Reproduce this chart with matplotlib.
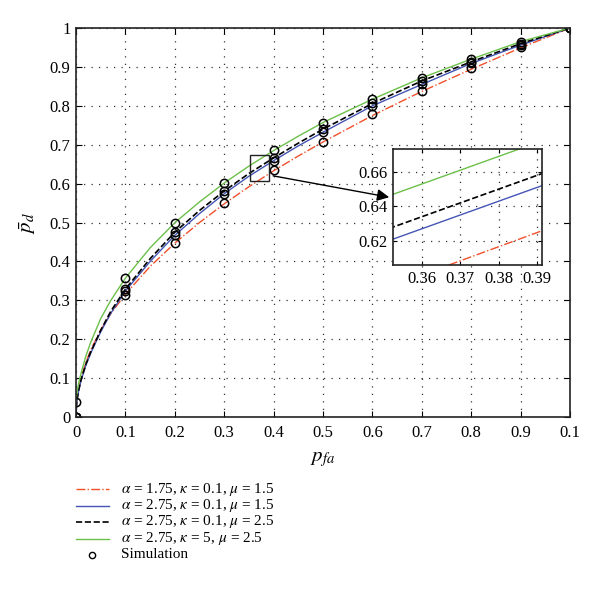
import matplotlib
matplotlib.use('Agg')
import matplotlib.pyplot as plt
from matplotlib.patches import Rectangle
from matplotlib.lines import Line2D

plt.rcParams['font.family'] = ['Liberation Serif', 'DejaVu Serif']
plt.rcParams['mathtext.fontset'] = 'stix'

# curve values
pfa = [0, 0.001, 0.002, 0.005, 0.01, 0.02, 0.03, 0.05, 0.07, 0.1, 0.15, 0.2, 0.25, 0.3,
       0.35, 0.4, 0.45, 0.5, 0.6, 0.7, 0.8, 0.9, 1.0]
pd_red = [0, 0.032, 0.045, 0.071, 0.1, 0.141, 0.173, 0.224, 0.265, 0.316, 0.387, 0.447, 0.5,
          0.548, 0.592, 0.633, 0.671, 0.707, 0.775, 0.837, 0.894, 0.949, 1.0]
pd_blue = [0, 0.030, 0.043, 0.065, 0.093, 0.133, 0.165, 0.219, 0.266, 0.324, 0.40, 0.467, 0.523,
           0.574, 0.619, 0.659, 0.697, 0.732, 0.800, 0.855, 0.909, 0.956, 1.0]
pd_black = [0, 0.031, 0.044, 0.067, 0.095, 0.136, 0.168, 0.223, 0.271, 0.329, 0.407, 0.475, 0.531,
            0.581, 0.626, 0.666, 0.704, 0.740, 0.806, 0.864, 0.913, 0.960, 1.0]
pd_green = [0.04, 0.054, 0.064, 0.085, 0.112, 0.157, 0.193, 0.253, 0.299, 0.357, 0.435, 0.4995, 0.553,
            0.6015, 0.645, 0.685, 0.722, 0.757, 0.817, 0.872, 0.920, 0.965, 1.0]

# simulation points
sim_x = [0, 0.1, 0.2, 0.3, 0.4, 0.5, 0.6, 0.7, 0.8, 0.9, 1.0]
sim_red = [0, 0.314, 0.447, 0.551, 0.635, 0.708, 0.778, 0.839, 0.896, 0.952, 1.0]
sim_blue = [0, 0.324, 0.467, 0.574, 0.658, 0.732, 0.800, 0.855, 0.909, 0.956, 1.0]
sim_black = [0, 0.329, 0.475, 0.581, 0.665, 0.740, 0.806, 0.864, 0.913, 0.960, 1.0]
sim_green = [0.038, 0.357, 0.4995, 0.6015, 0.686, 0.757, 0.817, 0.872, 0.920, 0.965, 1.0]

xtick_vals = [0, 0.1, 0.2, 0.3, 0.4, 0.5, 0.6, 0.7, 0.8, 0.9, 1.0]
xtick_labels = ['0', '0.1', '0.2', '0.3', '0.4', '0.5', '0.6', '0.7', '0.8', '0.9', '0.1']
ytick_vals = [0, 0.1, 0.2, 0.3, 0.4, 0.5, 0.6, 0.7, 0.8, 0.9, 1.0]
ytick_labels = ['0', '0.1', '0.2', '0.3', '0.4', '0.5', '0.6', '0.7', '0.8', '0.9', '1']

labels = [r'$\alpha$ = 1.75, $\kappa$ = 0.1, $\mu$ = 1.5',
          r'$\alpha$ = 2.75, $\kappa$ = 0.1, $\mu$ = 1.5',
          r'$\alpha$ = 2.75, $\kappa$ = 0.1, $\mu$ = 2.5',
          r'$\alpha$ = 2.75, $\kappa$ = 5, $\mu$ = 2.5',
          'Simulation']

c_red = '#f0502a'
c_blue = '#4455b5'
c_green = '#6cc04a'
grid_style = dict(color='#333333', linestyle=(0, (1, 5)), linewidth=0.9)
styles = [dict(color=c_red, linestyle='-.', lw=1.0),
          dict(color=c_blue, linestyle='-', lw=1.0),
          dict(color='black', linestyle='--', lw=1.2),
          dict(color=c_green, linestyle='-', lw=1.0)]


def draw_curves(a):
    for y, st in zip((pd_red, pd_blue, pd_black, pd_green), styles):
        a.plot(pfa, y, **st)


fig = plt.figure(figsize=(6, 6.13), dpi=100)
ax = fig.add_axes([0.1267, 0.3197, 0.8233, 0.6346])

draw_curves(ax)
for s in (sim_red, sim_blue, sim_black, sim_green):
    ax.plot(sim_x, s, 'o', mfc='none', mec='black', ms=6, mew=1.1)
ax.set_xlim(0, 1)
ax.set_ylim(0, 1)
ax.set_xticks(xtick_vals)
ax.set_xticklabels(xtick_labels)
ax.set_yticks(ytick_vals)
ax.set_yticklabels(ytick_labels)
ax.tick_params(direction='in', top=True, right=True, labelsize=12, length=4)
ax.tick_params(axis='x', pad=6)
ax.tick_params(axis='y', pad=4)
ax.grid(True, **grid_style)
for sp in ax.spines.values():
    sp.set_linewidth(1.2)
    sp.set_color('#222222')
ax.set_xlabel(r'$p_{fa}$', fontsize=15, labelpad=6)
ax.set_ylabel(r'$\bar{p}_d$', fontsize=15, labelpad=8)

# zoom box and arrow
ax.add_patch(Rectangle((0.3525, 0.606), 0.039, 0.067, fill=False,
                       edgecolor='#222222', lw=1.0, zorder=5))
ax.annotate('', xy=(0.634, 0.565), xytext=(0.399, 0.62),
            arrowprops=dict(arrowstyle='-|>', color='black', lw=1.0,
                            mutation_scale=18, shrinkA=0, shrinkB=0))

# inset
axin = fig.add_axes([0.655, 0.5677, 0.2483, 0.1892])
draw_curves(axin)
axin.set_xlim(0.3525, 0.3913)
axin.set_ylim(0.606, 0.6733)
axin.set_xticks([0.36, 0.37, 0.38, 0.39])
axin.set_yticks([0.62, 0.64, 0.66])
axin.tick_params(direction='in', top=True, right=True, labelsize=12, length=3, pad=4)
axin.grid(True, **grid_style)
for sp in axin.spines.values():
    sp.set_linewidth(1.2)
    sp.set_color('#222222')

# legend rows below the plot
W, H = 600, 613
for i, lab in enumerate(labels):
    yf = 1 - (489 + 16.5 * i) / H
    if i < 4:
        fig.add_artist(Line2D([76 / W, 109 / W], [yf, yf], transform=fig.transFigure, **styles[i]))
    else:
        fig.add_artist(Line2D([92 / W], [yf], transform=fig.transFigure, marker='o',
                              mfc='none', mec='black', ms=4.5, mew=1.0, linestyle='none'))
    fig.text(121 / W, yf, lab, fontsize=11, va='center', ha='left')

fig.savefig('out.png', dpi=100)
